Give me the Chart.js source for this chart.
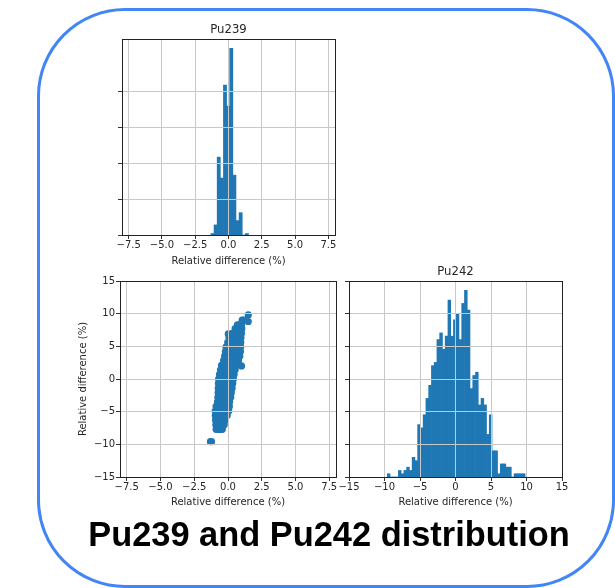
<!DOCTYPE html>
<html><head><meta charset="utf-8">
<script src="https://cdn.jsdelivr.net/npm/chart.js@4.4.1/dist/chart.umd.min.js"></script>
<style>
html,body{margin:0;padding:0;background:#fff;}
#wrap{position:relative;width:615px;height:588px;overflow:hidden;background:#fff;}
#frame{position:absolute;left:37px;top:8px;width:578px;height:580px;box-sizing:border-box;border:3px solid #4285f4;border-radius:88px;}
canvas{position:absolute;left:0;top:0;}
#title{position:absolute;left:43px;width:572px;top:517px;text-align:center;white-space:nowrap;font:bold 34.4px/34px "Liberation Sans",Arial,sans-serif;color:#000;}
</style></head>
<body><div id="wrap">
<div id="frame"></div>
<canvas id="c1" width="615" height="588"></canvas>
<canvas id="c2" width="615" height="588"></canvas>
<canvas id="c3" width="615" height="588"></canvas>
<div id="title">Pu239 and Pu242 distribution</div>
</div>
<script>
// ---- data ----
const pu239Edges = [-1.32,-1.085,-0.85,-0.615,-0.38,-0.145,0.09,0.325,0.56,0.795,1.03,1.265,1.5];
const pu239Counts = [2,14,108,79,208,179,259,83,20,31,0,2];

const pu242Edges = [-9.6,-9.212,-8.824,-8.436,-8.048,-7.66,-7.272,-6.884,-6.496,-6.108,-5.72,-5.332,-4.944,-4.556,-4.168,-3.78,-3.392,-3.004,-2.616,-2.228,-1.84,-1.452,-1.064,-0.676,-0.288,0.1,0.488,0.876,1.264,1.652,2.04,2.428,2.816,3.204,3.592,3.98,4.368,4.756,5.144,5.532,5.92,6.308,6.696,7.084,7.472,7.86,8.248,8.636,9.024,9.412,9.8];
const pu242Counts = [1,0,0,0,2,1,2,3,2,6,5,16,15,19,24,28,34,35,42,44,39,43,54,43,48,50,42,53,57,51,27,31,32,22,24,22,13,19,8,8,1,4,4,3,3,0,1,1,1,1];

// scatter: [Pu239 relative difference, Pu242 relative difference]
const scatterPoints = [
 [-1.3,-9.6],[-1.22,-9.6],
 [-0.88,-7.7],[-0.72,-7.7],[-0.56,-7.7],[-0.42,-7.7],
 [-0.9,-7.0],[-0.72,-7.0],[-0.54,-7.0],[-0.36,-7.0],[-0.28,-7.0],
 [-0.92,-6.3],[-0.74,-6.3],[-0.56,-6.3],[-0.38,-6.3],[-0.2,-6.3],
 [-0.94,-5.6],[-0.76,-5.6],[-0.58,-5.6],[-0.4,-5.6],[-0.22,-5.6],[-0.06,-5.6],
 [-0.95,-4.9],[-0.77,-4.9],[-0.59,-4.9],[-0.41,-4.9],[-0.23,-4.9],[-0.05,-4.9],[0.05,-4.9],
 [-0.88,-4.2],[-0.7,-4.2],[-0.52,-4.2],[-0.34,-4.2],[-0.16,-4.2],[0.02,-4.2],[0.1,-4.2],
 [-0.78,-3.5],[-0.6,-3.5],[-0.42,-3.5],[-0.24,-3.5],[-0.06,-3.5],[0.12,-3.5],
 [-0.75,-2.8],[-0.57,-2.8],[-0.39,-2.8],[-0.21,-2.8],[-0.03,-2.8],[0.15,-2.8],[0.2,-2.8],
 [-0.73,-2.1],[-0.55,-2.1],[-0.37,-2.1],[-0.19,-2.1],[-0.01,-2.1],[0.17,-2.1],[0.24,-2.1],
 [-0.72,-1.4],[-0.54,-1.4],[-0.36,-1.4],[-0.18,-1.4],[0.0,-1.4],[0.18,-1.4],[0.3,-1.4],
 [-0.71,-0.7],[-0.53,-0.7],[-0.35,-0.7],[-0.17,-0.7],[0.01,-0.7],[0.19,-0.7],[0.35,-0.7],
 [-0.7,0.0],[-0.52,0.0],[-0.34,0.0],[-0.16,0.0],[0.02,0.0],[0.2,0.0],[0.4,0.0],
 [-0.63,0.7],[-0.45,0.7],[-0.27,0.7],[-0.09,0.7],[0.09,0.7],[0.27,0.7],[0.45,0.7],
 [-0.55,1.4],[-0.37,1.4],[-0.19,1.4],[-0.01,1.4],[0.17,1.4],[0.35,1.4],[0.53,1.4],
 [1.0,2.0],
 [-0.48,2.1],[-0.3,2.1],[-0.12,2.1],[0.06,2.1],[0.24,2.1],[0.42,2.1],[0.62,2.1],
 [-0.33,2.8],[-0.15,2.8],[0.03,2.8],[0.21,2.8],[0.39,2.8],[0.57,2.8],[0.78,2.8],
 [-0.25,3.5],[-0.07,3.5],[0.11,3.5],[0.29,3.5],[0.47,3.5],[0.65,3.5],[0.87,3.5],
 [-0.19,4.2],[-0.01,4.2],[0.17,4.2],[0.35,4.2],[0.53,4.2],[0.71,4.2],[0.92,4.2],
 [-0.15,4.9],[0.03,4.9],[0.21,4.9],[0.39,4.9],[0.57,4.9],[0.75,4.9],[0.94,4.9],
 [-0.02,5.6],[0.16,5.6],[0.34,5.6],[0.52,5.6],[0.7,5.6],[0.94,5.6],
 [0.08,6.3],[0.26,6.3],[0.44,6.3],[0.62,6.3],[0.8,6.3],[0.96,6.3],
 [0.02,6.9],
 [0.33,7.0],[0.51,7.0],[0.69,7.0],[0.87,7.0],[1.0,7.0],
 [0.53,7.7],[0.71,7.7],[0.88,7.7],[1.02,7.7],
 [0.7,8.3],[0.86,8.3],[1.0,8.3],
 [1.05,9.0],[1.15,9.0],
 [1.5,8.8],[1.5,9.8]
];

const pu239XTicks = [-7.5,-5.0,-2.5,0.0,2.5,5.0,7.5];
const pu242XTicks = [-15,-10,-5,0,5,10,15];
const scatterYTicks = [-15,-10,-5,0,5,10,15];
const pu239GridTicks = [0,1,2,3,4];

const axisLabel = 'Relative difference (%)';

// ---- styling ----
const FONT = "'DejaVu Sans', sans-serif";
const TXT = '#262626';
const BLUE = '#1f77b4';
const tickFont = {family: FONT, size: 10};
const gridOpts = {color: '#c8c8c8', lineWidth: 1, drawTicks: true, tickLength: 4, tickColor: '#333', tickWidth: 1, z: 1, offset: false};
const minus = v => String(v).replace('-', '\u2212');
const fmt1 = v => minus(Number(v).toFixed(1));
const fmt0 = v => minus(Number(v).toFixed(0));
const setTicks = arr => (s => { s.ticks = arr.map(v => ({value: v})); });

const framePlugin = {
  id: 'frame',
  afterDraw(chart) {
    const {ctx, chartArea: a} = chart;
    ctx.save();
    ctx.strokeStyle = '#222';
    ctx.lineWidth = 1;
    ctx.strokeRect(a.left + 0.5, a.top + 0.5, a.right - a.left, a.bottom - a.top);
    ctx.restore();
  }
};

function xScale(min, max, ticks, fmt, h) {
  return {
    type: 'linear', min, max, offset: false, position: 'bottom',
    afterBuildTicks: setTicks(ticks),
    afterFit: s => { s.height = h; },
    grid: gridOpts, border: {display: false},
    ticks: {callback: fmt, font: tickFont, color: TXT, padding: 0, maxRotation: 0, autoSkip: false},
    title: {display: true, text: axisLabel, font: {family: FONT, size: 10}, color: TXT, padding: 0}
  };
}

function histConfig(edges, counts, title, xmin, xmax, xticks, xfmt, gmin, gmax, gticks, pad, xh) {
  const pts = counts.map((c, i) => ({x: (edges[i] + edges[i + 1]) / 2, y: c}));
  return {
    type: 'bar',
    data: {datasets: [{data: pts, backgroundColor: BLUE, borderWidth: 0, barPercentage: 1, categoryPercentage: 1, xAxisID: 'x', yAxisID: 'yc'}]},
    options: {
      responsive: false, animation: false, devicePixelRatio: 1,
      layout: {padding: pad},
      plugins: {
        legend: {display: false}, tooltip: {enabled: false},
        title: {display: true, text: title, fullSize: false, color: TXT,
                font: {family: FONT, size: 11.7, weight: 'normal', lineHeight: '15px'}, padding: {top: 0, bottom: 2}}
      },
      scales: {
        x: xScale(xmin, xmax, xticks, xfmt, xh),
        y: {type: 'linear', position: 'left', min: gmin, max: gmax,
            afterBuildTicks: setTicks(gticks), afterFit: s => { s.width = 10; },
            grid: gridOpts, border: {display: false}, ticks: {display: false}},
        yc: {type: 'linear', display: false, min: 0, max: 1.05 * Math.max(...counts)}
      }
    },
    plugins: [framePlugin]
  };
}

new Chart(document.getElementById('c1'), histConfig(
  pu239Edges, pu239Counts, 'Pu239', -8, 8, pu239XTicks, fmt1,
  0, 196 / 36, pu239GridTicks, {left: 112, right: 280, top: 22, bottom: 321}, 32));

new Chart(document.getElementById('c3'), histConfig(
  pu242Edges, pu242Counts, 'Pu242', -15, 15, pu242XTicks, fmt0,
  -15, 15, scatterYTicks, {left: 339, right: 53, top: 264, bottom: 80}, 31));

new Chart(document.getElementById('c2'), {
  type: 'scatter',
  data: {datasets: [{data: scatterPoints.map(p => ({x: p[0], y: p[1]})), backgroundColor: BLUE, borderWidth: 0, pointRadius: 3.6, pointHoverRadius: 3.6}]},
  options: {
    responsive: false, animation: false, devicePixelRatio: 1,
    layout: {padding: {left: 77, right: 279, top: 281, bottom: 80}},
    plugins: {legend: {display: false}, tooltip: {enabled: false}},
    scales: {
      x: xScale(-8, 8, pu239XTicks, fmt1, 31),
      y: {type: 'linear', position: 'left', min: -15, max: 15,
          afterBuildTicks: setTicks(scatterYTicks), afterFit: s => { s.width = 43; },
          grid: gridOpts, border: {display: false},
          ticks: {callback: fmt0, font: tickFont, color: TXT, padding: 1},
          title: {display: true, text: axisLabel, font: {family: FONT, size: 10}, color: TXT, padding: 0}}
    }
  },
  plugins: [framePlugin]
});
</script>
</body></html>
